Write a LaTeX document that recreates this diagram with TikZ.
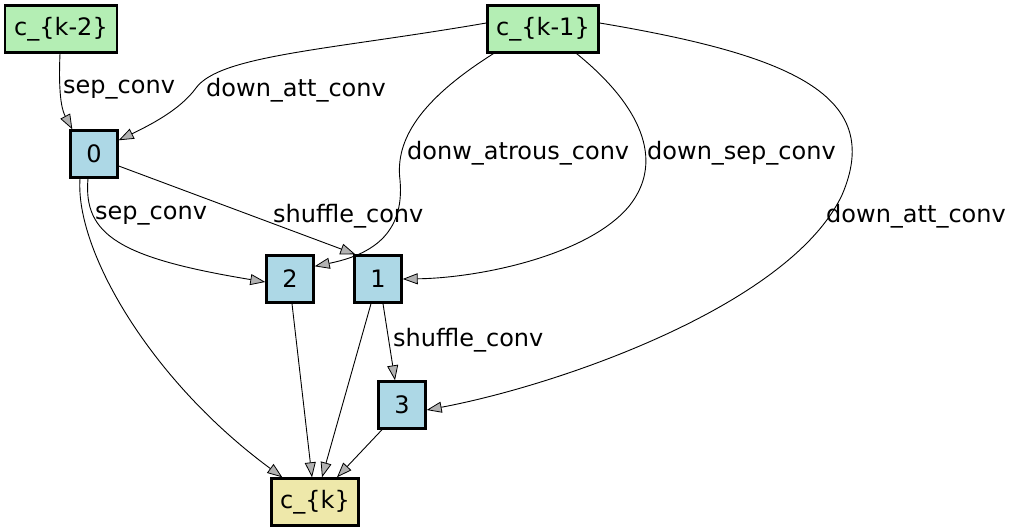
\documentclass[tikz,border=0pt]{standalone}
\usepackage{fontspec}
\setmainfont{DejaVu Sans}
\usetikzlibrary{arrows.meta}
\definecolor{cgreen}{HTML}{B4EEB4}
\definecolor{cblue}{HTML}{ADD8E6}
\definecolor{cyellow}{HTML}{EEE8AA}
\begin{document}
\begin{tikzpicture}[x=1pt,y=-1pt,
  every node/.style={font=\fontsize{24}{28}\selectfont},
  box/.style={draw=black,line width=2.4pt,inner sep=0pt,minimum height=47pt},
  ibox/.style={box,fill=cblue,minimum width=47pt},
  edge/.style={draw=black,line width=0.9pt,-{Triangle[length=15pt,width=11pt,fill=black!30,line width=0.8pt]}},
  lab/.style={anchor=west,inner sep=0pt}]
\useasboundingbox (0,0) rectangle (1014,532);
\node[box,fill=cgreen,minimum width=112pt] (ck2) at (61,29) {c\_\{k-2\}};
\node[box,fill=cgreen,minimum width=111pt] (ck1) at (543,29) {c\_\{k-1\}};
\node[ibox] (n0) at (94,154) {0};
\node[ibox] (n2) at (290,279) {2};
\node[ibox] (n1) at (378,279) {1};
\node[ibox] (n3) at (402,405) {3};
\node[box,fill=cyellow,minimum width=87pt] (ck) at (315,502) {c\_\{k\}};
% edges
\draw[edge] ([xshift=-1pt]ck2.south) .. controls (58,100) and (63,112) .. ([xshift=3pt]n0.north west);
\draw[edge] ([yshift=6pt]ck1.west) .. controls (330,50) and (220,55) .. (196,88) .. controls (180,110) and (150,125) .. ([yshift=-11pt]n0.north east);
\draw[edge] ([xshift=7pt]ck1.south west) .. controls (420,100) and (395,140) .. (400,180) .. controls (405,235) and (370,255) .. ([yshift=-12pt]n2.north east);
\draw[edge] ([xshift=-23pt]ck1.south east) .. controls (640,105) and (665,160) .. (630,205) .. controls (590,255) and (480,278) .. (n1.east);
\draw[edge] ([yshift=6pt]ck1.east) .. controls (790,55) and (885,95) .. (842,195) .. controls (790,305) and (560,385) .. ([yshift=-5pt]n3.east);
\draw[edge] ([xshift=-6pt]n0.south) .. controls (83,235) and (120,258) .. ([yshift=-3pt]n2.west);
\draw[edge] ([yshift=-12pt]n0.east) -- ([xshift=2pt]n1.north west);
\draw[edge] ([xshift=-14pt]n0.south) .. controls (75,250) and (150,380) .. ([xshift=12pt]ck.north west);
\draw[edge] ([xshift=2pt]n2.south) -- ([xshift=-3pt]ck.north);
\draw[edge] ([xshift=-7pt]n1.south) -- ([xshift=7pt]ck.north);
\draw[edge] ([xshift=5pt]n1.south) -- ([xshift=-7pt]n3.north);
\draw[edge] ([xshift=-20pt]n3.south) -- ([xshift=22pt]ck.north);
% labels
\node[lab] (l1) at (63,90) {sep\_conv};
\node[lab] (l2) at (206,90) {down\_att\_conv};
\node[lab] (l3) at (407,153) {donw\_atrous\_conv};
\node[lab] (l4) at (647,153) {down\_sep\_conv};
\node[lab] (l5) at (826,216) {down\_att\_conv};
\node[lab] (l6) at (95,216) {sep\_conv};
\node[lab] (l7) at (273,216) {shuffle\_conv};
\node[lab] (l8) at (393,340) {shuffle\_conv};
\end{tikzpicture}
\end{document}
